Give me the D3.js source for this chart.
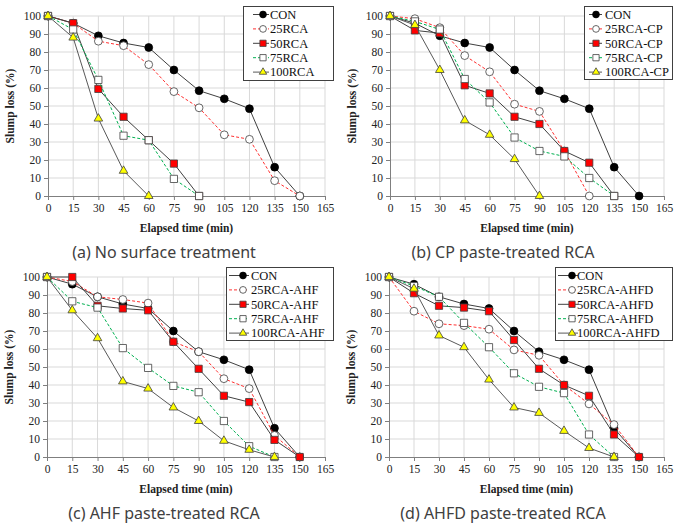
<!DOCTYPE html>
<html>
<head>
<meta charset="utf-8">
<script src="https://cdn.jsdelivr.net/npm/d3@7"></script>
<style>
  body { margin: 0; background: #fff; }
  svg { display: block; }
  .tick text { font-family: "Liberation Serif", "Times New Roman", serif; font-size: 11.5px; fill: #222; }
  .axisTitle { font-family: "Liberation Serif", serif; font-weight: bold; font-size: 11.5px; fill: #222; }
  .caption { font-family: "Noto Sans", "Open Sans", sans-serif; font-size: 16px; fill: #404040; }
  .legend text { font-family: "Liberation Serif", serif; font-size: 12.5px; fill: #111; }
</style>
</head>
<body>
<div id="chart"></div>
<script>
// elapsed time (min)
const times = [0, 15, 30, 45, 60, 75, 90, 105, 120, 135, 150];
const xTicks = [0, 15, 30, 45, 60, 75, 90, 105, 120, 135, 150, 165];
const yTicks = [0, 10, 20, 30, 40, 50, 60, 70, 80, 90, 100];

// slump loss (%)
const con = [100, 96, 89, 85, 82.5, 70, 58.5, 54, 48.5, 16, 0];

const rca25 = [100, 96, 86, 83.5, 73, 58, 49, 34, 31.5, 8.5, 0];
const rca50 = [100, 96, 59.5, 44, 31, 18, 0];
const rca75 = [100, 92.5, 64.5, 33.5, 31, 9.5, 0];
const rca100 = [100, 88, 43, 14, 0];

const cp25 = [100, 98.5, 93.5, 78, 69, 51, 47, 25, 0];
const cp50 = [100, 92, 90.5, 61.5, 57, 44, 40, 25, 18.5, 0];
const cp75 = [100, 97, 92.5, 65, 52, 32.5, 25, 22, 10, 0];
const cp100 = [100, 95, 70, 42, 34, 20.5, 0];

const ahf25 = [100, 97.5, 89, 87.5, 85.5, 64, 58.5, 43.5, 38, 12, 0];
const ahf50 = [100, 100, 84, 82.5, 81.5, 64, 49, 34, 30.5, 9.5, 0];
const ahf75 = [100, 86.5, 83, 60.5, 49.5, 39.5, 36, 20, 6, 0];
const ahf100 = [100, 81.5, 66, 42, 38, 27.5, 20, 9, 4, 0];

const ahfd25 = [100, 81, 74, 73, 71, 59.5, 56.5, 40, 29.5, 18, 0];
const ahfd50 = [100, 91, 84, 83, 81, 65, 49, 40, 34, 12.5, 0];
const ahfd75 = [100, 95, 89, 74.5, 61, 46.5, 39, 35.5, 12.5, 0];
const ahfd100 = [100, 93.5, 67.5, 61, 43, 27.5, 24.5, 14.5, 5, 0];

const captions = ['(a) No surface treatment', '(b) CP paste-treated RCA',
    '(c) AHF paste-treated RCA', '(d) AHFD paste-treated RCA'];
const suffixes = ['', '-CP', '-AHF', '-AHFD'];

// series styles, in drawing order
const styles = [
    {name: 'CON', line: '#404040', dash: null, shape: d3.symbolCircle, size: 48, fill: '#000', stroke: '#000'},
    {name: '25RCA', line: '#ff3030', dash: '3,2', shape: d3.symbolCircle, size: 48, fill: '#fff', stroke: '#404040'},
    {name: '50RCA', line: '#404040', dash: null, shape: d3.symbolSquare, size: 52, fill: '#ff0000', stroke: '#404040'},
    {name: '75RCA', line: '#00b050', dash: '3,2', shape: d3.symbolSquare, size: 52, fill: '#fff', stroke: '#404040'},
    {name: '100RCA', line: '#595959', dash: null, shape: d3.symbolTriangle, size: 32, fill: '#ffff00', stroke: '#404040'}
];

const panels = [
    {box: [48, 325, 16, 196], series: [con, rca25, rca50, rca75, rca100],
        legend: {x: 243, y: 6, w: 90, h: 74, line: 10, mark: 20, text: 27}},
    {box: [390, 664, 16, 196], series: [con, cp25, cp50, cp75, cp100],
        legend: {x: 584, y: 6, w: 88, h: 73, line: 5, mark: 12, text: 21}},
    {box: [47, 325, 277, 457], series: [con, ahf25, ahf50, ahf75, ahf100],
        legend: {x: 226, y: 267, w: 107, h: 73, line: 3, mark: 17, text: 25}},
    {box: [389, 664, 277, 457], series: [con, ahfd25, ahfd50, ahfd75, ahfd100],
        legend: {x: 555, y: 267, w: 117, h: 73, line: 3, mark: 17, text: 22}}
];

const svg = d3.select('#chart')
    .append('svg')
    .attr('width', 674)
    .attr('height', 524);

panels.forEach((p, k) => {
    const [x0, x1, y0, y1] = p.box;
    const x = d3.scaleLinear().domain([0, 165]).range([x0, x1]);
    const y = d3.scaleLinear().domain([0, 100]).range([y1, y0]);
    const g = svg.append('g');

    // gridlines
    g.append('g')
        .selectAll('line')
        .data(xTicks.slice(1))
        .join('line')
        .attr('x1', d => x(d)).attr('x2', d => x(d))
        .attr('y1', y0).attr('y2', y1)
        .attr('stroke', '#d9d9d9');
    g.append('g')
        .selectAll('line')
        .data(yTicks.slice(1))
        .join('line')
        .attr('x1', x0).attr('x2', x1)
        .attr('y1', d => y(d)).attr('y2', d => y(d))
        .attr('stroke', '#d9d9d9');

    // axes
    const xAxis = g.append('g')
        .attr('transform', `translate(0,${y1})`)
        .call(d3.axisBottom(x).tickValues(xTicks).tickSize(4).tickPadding(4));
    const yAxis = g.append('g')
        .attr('transform', `translate(${x0},0)`)
        .call(d3.axisLeft(y).tickValues(yTicks).tickSize(4).tickPadding(3));
    [xAxis, yAxis].forEach(a => {
        a.select('.domain').attr('stroke', '#7f7f7f');
        a.selectAll('.tick line').attr('stroke', '#7f7f7f');
    });

    g.append('text')
        .attr('class', 'axisTitle')
        .attr('x', (x0 + x1) / 2)
        .attr('y', y1 + 36)
        .attr('text-anchor', 'middle')
        .text('Elapsed time (min)');
    g.append('text')
        .attr('class', 'axisTitle')
        .attr('transform', `translate(${x0 - 34},${(y0 + y1) / 2}) rotate(-90)`)
        .attr('text-anchor', 'middle')
        .text('Slump loss (%)');

    g.append('text')
        .attr('class', 'caption')
        .attr('x', k % 2 === 0 ? 164 : 503)
        .attr('y', y1 + 62)
        .attr('text-anchor', 'middle')
        .text(captions[k]);

    // series
    const line = d3.line().x((d, i) => x(times[i])).y(d => y(d));
    p.series.forEach((vals, s) => {
        const st = styles[s];
        g.append('path')
            .datum(vals)
            .attr('d', line)
            .attr('fill', 'none')
            .attr('stroke', st.line)
            .attr('stroke-width', 1)
            .attr('stroke-dasharray', st.dash);
        g.selectAll(null)
            .data(vals)
            .join('path')
            .attr('transform', (d, i) => `translate(${x(times[i])},${y(d)})`)
            .attr('d', d3.symbol().type(st.shape).size(st.size))
            .attr('fill', st.fill)
            .attr('stroke', st.stroke)
            .attr('stroke-width', 0.8);
    });

    // legend
    const L = p.legend;
    const lg = g.append('g').attr('class', 'legend');
    lg.append('rect')
        .attr('x', L.x + 0.5).attr('y', L.y + 0.5)
        .attr('width', L.w).attr('height', L.h)
        .attr('fill', '#fff')
        .attr('stroke', '#404040');
    styles.forEach((st, s) => {
        const cy = L.y + 8.5 + s * 14.4;
        lg.append('line')
            .attr('x1', L.x + L.line).attr('x2', L.x + L.mark + 6)
            .attr('y1', cy).attr('y2', cy)
            .attr('stroke', st.line)
            .attr('stroke-dasharray', st.dash);
        lg.append('path')
            .attr('transform', `translate(${L.x + L.mark},${cy})`)
            .attr('d', d3.symbol().type(st.shape).size(st.size * 0.75))
            .attr('fill', st.fill)
            .attr('stroke', st.stroke)
            .attr('stroke-width', 0.8);
        lg.append('text')
            .attr('x', L.x + L.text)
            .attr('y', cy + 4.3)
            .text(s === 0 ? st.name : st.name + suffixes[k]);
    });
});
</script>
</body>
</html>
